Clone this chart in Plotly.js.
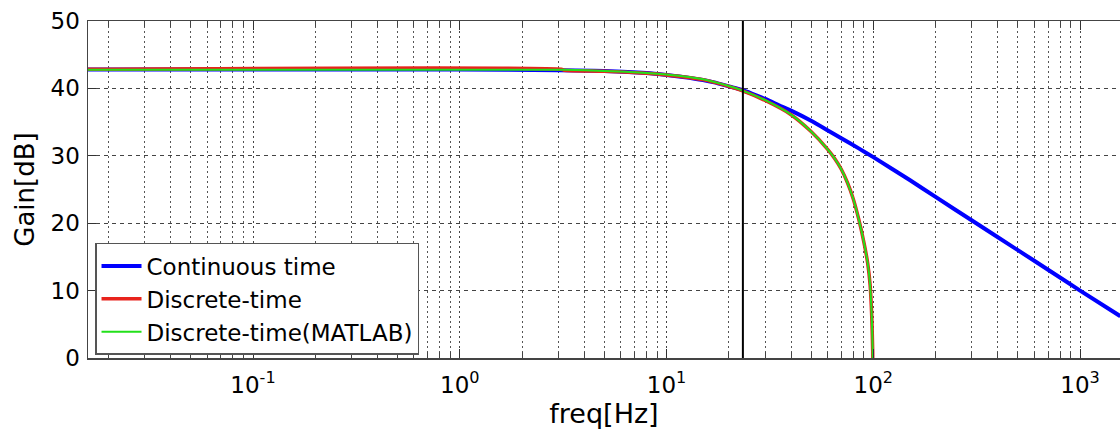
<!DOCTYPE html>
<html>
<head>
<meta charset="utf-8">
<script src="https://cdn.plot.ly/plotly-3.0.1.min.js"></script>
<style>
  html, body { margin: 0; padding: 0; background: #fff; }
  #chart { width: 1120px; height: 432px; }
</style>
</head>
<body>
<div id="chart"></div>
<script>
// Continuous-time response
const freqCont = [0.0159, 0.1, 1, 3, 5, 8, 10, 12, 15, 17, 20, 23, 26, 30, 35, 40, 50, 60, 70, 85, 100, 150, 200, 300, 500, 700, 1000, 1566];
const gainCont = [42.8, 42.8, 42.8, 42.7, 42.6, 42.3, 42.0, 41.7, 41.25, 40.9, 40.3, 39.8, 39.2, 38.45, 37.5, 36.7, 35.2, 33.8, 32.6, 31.1, 29.8, 26.4, 23.9, 20.4, 16.0, 13.1, 10.0, 6.2];

// Discrete-time response
const freqDisc = [0.0159, 3.1, 3.2, 5, 8, 10, 15, 20, 23, 30, 40, 50, 60, 65, 70, 75, 80, 85, 90, 94, 96.5, 98.3, 99.3, 100];
const gainDisc = [42.85, 42.85, 42.7, 42.55, 42.25, 42.0, 41.3, 40.3, 39.7, 38.2, 36.1, 33.6, 31.0, 29.6, 28.0, 26.0, 23.6, 20.6, 17.2, 14.0, 10.8, 6.0, 1.0, -10];

// Discrete-time (MATLAB) response
const freqMat = [0.0159, 3.1, 3.2, 5, 8, 10, 15, 20, 23, 30, 40, 50, 60, 65, 70, 75, 80, 85, 90, 94, 96.5, 98.3, 99.3, 100];
const gainMat = [42.75, 42.75, 42.75, 42.6, 42.3, 42.05, 41.35, 40.35, 39.75, 38.25, 36.1, 33.6, 31.0, 29.6, 28.0, 26.0, 23.6, 20.6, 17.2, 14.0, 10.8, 6.0, 1.0, -10];

// Cut-off frequency marker
const cutoffFreq = [23.4];

const seriesNames = ["Continuous time", "Discrete-time", "Discrete-time(MATLAB)"];
const majorTickVals = [0.1, 1, 10, 100, 1000];
const majorTickText = ["10<sup>-1</sup>", "10<sup>0</sup>", "10<sup>1</sup>", "10<sup>2</sup>", "10<sup>3</sup>"];
const yTickVals = [0, 10, 20, 30, 40, 50];

const minorVals = [];
for (let e = -2; e <= 3; e++) {
  for (let m = 2; m <= 9; m++) minorVals.push(m * Math.pow(10, e));
}

const FONT = "DejaVu Sans, Liberation Sans, sans-serif";

const traces = [
  { x: freqCont, y: gainCont, name: seriesNames[0], mode: "lines",
    line: { color: "#0000ff", width: 4, shape: "spline", smoothing: 0.6 } },
  { x: freqDisc, y: gainDisc, name: seriesNames[1], mode: "lines",
    line: { color: "#e8231c", width: 3.5, shape: "spline", smoothing: 0.6 } },
  { x: freqMat, y: gainMat, name: seriesNames[2], mode: "lines",
    line: { color: "#22e01a", width: 2, shape: "spline", smoothing: 0.6 } }
];

const layout = {
  width: 1120, height: 432,
  margin: { l: 88, r: 0, t: 21, b: 74 },
  paper_bgcolor: "#ffffff", plot_bgcolor: "#ffffff",
  showlegend: true,
  font: { family: FONT, color: "#000" },
  xaxis: {
    type: "log",
    range: [-1.798, 3.193],
    tickmode: "array", tickvals: majorTickVals, ticktext: majorTickText,
    tickfont: { family: FONT, size: 23, color: "#000" },
    ticks: "inside", ticklen: 9, tickwidth: 1, tickcolor: "#333",
    showline: true, linecolor: "#444", linewidth: 1.5, mirror: "ticks",
    showgrid: true, gridcolor: "#444", gridwidth: 1, griddash: "2px,3px",
    minor: { tickmode: "array", tickvals: minorVals, ticks: "inside", ticklen: 6,
             tickcolor: "#444", showgrid: true, gridcolor: "#555", gridwidth: 1, griddash: "2px,3px" },
    zeroline: false,
    ticklabelstandoff: 6,
    title: { text: "freq[Hz]", font: { family: FONT, size: 27, color: "#000" }, standoff: 4 }
  },
  yaxis: {
    range: [0, 50],
    tickmode: "array", tickvals: yTickVals,
    tickfont: { family: FONT, size: 23, color: "#000" },
    ticks: "inside", ticklen: 8, tickcolor: "#333",
    showline: true, linecolor: "#444", linewidth: 1.5, mirror: false,
    showgrid: true, gridcolor: "#444", gridwidth: 1, griddash: "4px,4px",
    zeroline: false,
    ticklabelstandoff: 2,
    title: { text: "Gain[dB]", font: { family: FONT, size: 26, color: "#000" }, standoff: 8 }
  },
  legend: {
    x: 0.0068, y: 0.009, xanchor: "left", yanchor: "bottom",
    bgcolor: "#ffffff", bordercolor: "#555", borderwidth: 1.5,
    font: { family: FONT, size: 23, color: "#000" },
    itemwidth: 40, tracegroupgap: 0
  },
  shapes: cutoffFreq.map(f => ({
    type: "line", xref: "x", yref: "paper", x0: f, x1: f, y0: 0, y1: 1,
    line: { color: "#000", width: 2 }
  }))
};

Plotly.newPlot("chart", traces, layout, { staticPlot: true, displayModeBar: false });
</script>
</body>
</html>
